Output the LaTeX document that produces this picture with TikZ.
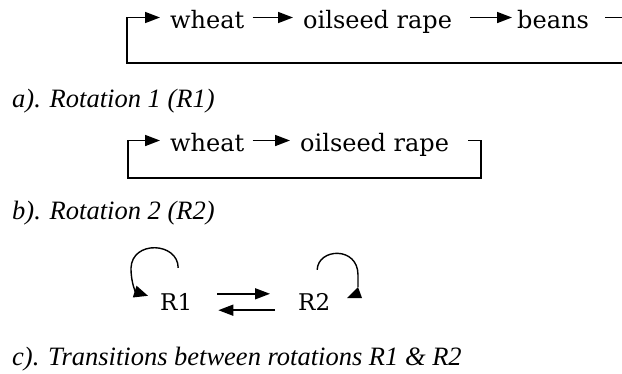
\documentclass[tikz,border=0pt]{standalone}
\usepackage{fontspec}
\setmainfont{Liberation Serif}
\newfontfamily\cropfont{DejaVu Serif}
\usetikzlibrary{arrows.meta,calc}
\begin{document}
\begin{tikzpicture}[x=1pt,y=-1pt,
  crop/.style={font=\cropfont\fontsize{24}{28}\selectfont, inner sep=0pt, anchor=base west, text height=21pt, text depth=0pt},
  rot/.style={font=\cropfont\fontsize{23}{27}\selectfont, inner sep=0pt, anchor=base west, text height=16pt, text depth=0pt},
  captxt/.style={font=\itshape\fontsize{26.5}{30}\selectfont, inner sep=0pt, anchor=base west},
  flow/.style={line width=1.6pt, line join=miter, -{Triangle[length=15pt,width=11pt]}},
  loopline/.style={line width=1.4pt}
]
\useasboundingbox (0,0) rectangle (622,373);
\clip (0,0) rectangle (622,373);

% ---- a) Rotation 1
\node[crop] (wA) at (170,28) {wheat};
\node[crop] (oA) at (303,28) {oilseed rape};
\node[crop] (bA) at (517,28) {beans};
\coordinate (a1) at (660,63);
\coordinate (a2) at (127,63);
\draw[flow] ([xshift=8pt]wA.east) -- ([xshift=-10pt]oA.west);
\draw[flow] ([xshift=18pt]oA.east) -- ([xshift=-5pt]bA.west);
\draw[flow] ([xshift=16pt]bA.east) -| (a1) -- (a2) |- ([xshift=-10pt]wA.west);
\node[captxt] (capA) at (12,107) {a). Rotation 1 (R1)};

% ---- b) Rotation 2
\node[crop] (wB) at (170,151) {wheat};
\node[crop] (oB) at (300,151) {oilseed rape};
\coordinate (b1) at (481,178);
\coordinate (b2) at (128,178);
\draw[flow] ([xshift=8pt]wB.east) -- ([xshift=-10pt]oB.west);
\draw[flow] ([xshift=19pt]oB.east) -| (b1) -- (b2) |- ([xshift=-10pt]wB.west);
\node[captxt] (capB) at (12,219) {b). Rotation 2 (R2)};

% ---- c) Transitions
\node[rot] (R1) at (160,310) {R1};
\node[rot] (R2) at (298,310) {R2};
\draw[flow] ([xshift=25pt]R1.north east) -- ([xshift=-28pt]R2.north west);
\draw[flow] ([xshift=-23pt]R2.south west) -- ([xshift=26pt]R1.south east);
\coordinate (r1s) at ($(R1.north)+(2,-26)$);
\coordinate (r1e) at ($(R1.north west)+(-12,2)$);
\draw[loopline, -{Triangle[length=14pt,width=12pt]}] (r1s) .. controls (178,242) and (132,240) .. (131,268) .. controls (131,284) and (136,292) .. (r1e);
\coordinate (r2s) at ($(R2.north)+(3,-24)$);
\coordinate (r2e) at (358,287);
\draw[loopline] (r2s) .. controls (318,248) and (358,246) .. (358,275) -- (r2e);
\fill (r2e) -- (347,298) -- (362,298) -- cycle;
\node[captxt] (capC) at (12,365) {c). Transitions between rotations R1 \& R2};
\end{tikzpicture}
\end{document}
